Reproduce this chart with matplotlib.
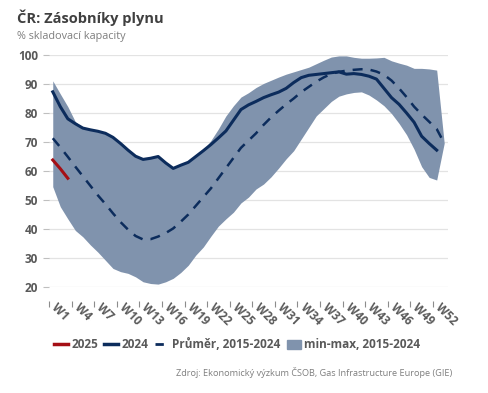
import numpy as np
import matplotlib
matplotlib.use("Agg")
from matplotlib import pyplot as plt
import matplotlib.lines as mlines
import matplotlib.patches as mpatches

plt.rcParams['font.family'] = ['Open Sans', 'DejaVu Sans']

# weekly gas storage, % of capacity
weeks = list(range(1, 54))
tick_weeks = list(range(1, 53, 3))
tick_labels = ["W" + str(w) for w in tick_weeks]

y2025 = [63.8, 60.8, 57.5]

y2024 = [87.3, 82.2, 78.0, 76.3, 74.8, 74.2, 73.7, 73.0, 71.6, 69.5,
         67.2, 65.1, 64.0, 64.4, 65.0, 62.8, 60.9, 62.0, 63.0, 65.0,
         67.0, 69.1, 71.4, 73.8, 77.5, 81.2, 82.8, 84.0, 85.3, 86.3,
         87.2, 88.5, 90.5, 92.2, 93.0, 93.3, 93.6, 93.9, 94.2, 93.4,
         93.6, 93.3, 92.7, 91.7, 88.5, 85.3, 83.0, 80.0, 76.8, 72.0,
         69.5, 67.2]

avg = [71.3, 68.2, 64.9, 61.5, 58.2, 54.9, 51.6, 48.6, 45.4, 42.4,
       39.8, 37.6, 36.4, 36.5, 37.4, 38.6, 40.2, 42.5, 45.0, 48.0,
       51.0, 54.0, 57.5, 61.0, 64.5, 68.0, 70.5, 73.0, 75.9, 78.5,
       80.8, 83.0, 85.0, 87.2, 89.0, 90.8, 92.3, 93.5, 94.2, 94.6,
       94.9, 95.1, 95.0, 94.3, 93.2, 91.2, 88.5, 85.5, 82.2, 79.5,
       77.0, 74.5, 69.6]

vmax = [91.1, 86.6, 82.2, 77.0, 75.0, 74.4, 73.9, 73.2, 71.8, 69.7,
        67.4, 65.3, 64.2, 64.6, 65.2, 63.0, 61.1, 62.2, 63.2, 65.2,
        67.2, 70.5, 74.5, 79.0, 82.5, 85.5, 87.0, 88.8, 90.2, 91.3,
        92.4, 93.4, 94.2, 95.0, 95.8, 97.0, 98.2, 99.3, 99.7, 99.7,
        99.2, 98.9, 98.9, 99.0, 99.2, 98.0, 97.2, 96.5, 95.4, 95.4,
        95.2, 94.8, 69.6]

vmin = [54.6, 47.7, 43.5, 39.5, 37.3, 34.5, 32.0, 29.2, 26.4, 25.3,
        24.7, 23.5, 21.8, 21.2, 21.0, 21.8, 23.0, 25.0, 27.5, 31.0,
        33.8, 37.5, 41.0, 43.5, 45.8, 49.0, 51.0, 53.8, 55.5, 58.0,
        61.0, 64.2, 67.0, 71.0, 75.0, 79.0, 81.5, 84.0, 85.8, 86.6,
        87.1, 87.3, 86.2, 84.5, 82.5, 79.8, 76.4, 72.5, 67.5, 61.5,
        57.8, 56.9, 69.6]

navy = '#0c2c5c'
red = '#a50f15'
band = '#8093ad'
grey = '#595959'

fig = plt.figure(figsize=(4.88, 3.93), dpi=100)
ax = fig.add_axes([0.1004, 0.2697, 0.8176, 0.5903])

ax.fill_between(weeks, vmin, vmax, color=band, lw=0, zorder=1)
ax.plot(weeks, avg, color=navy, lw=1.8, dashes=(4, 3.2), zorder=3)
ax.plot(weeks[:len(y2024)], y2024, color=navy, lw=2.2, zorder=4)
ax.plot(weeks[:len(y2025)], y2025, color=red, lw=2.2, zorder=5)

ax.set_xlim(0.5, 53.5)
ax.set_ylim(20, 100)
ax.set_yticks(range(20, 101, 10))
ax.grid(axis='y', color='#e3e3e3', lw=0.9, zorder=0)
ax.set_axisbelow(True)
for s in ax.spines.values():
    s.set_visible(False)
ax.spines['bottom'].set_position(('outward', 10))

ax.tick_params(axis='y', length=4, color='#bfbfbf', pad=4, labelsize=8.5,
               labelcolor=grey)
for lab in ax.get_yticklabels():
    lab.set_fontweight('bold')

ax.set_xticks([w - 0.5 for w in tick_weeks])
ax.set_xticklabels(tick_labels, rotation=-45, ha='left', va='bottom',
                   rotation_mode='anchor', fontweight='bold', fontsize=8.5,
                   color=grey)
ax.tick_params(axis='x', length=4, color='#8c8c8c', pad=3)

fig.text(17 / 488, 1 - 18 / 393, "ČR: Zásobníky plynu", fontsize=10.5,
         fontweight='bold', color='#404040', va='center')
fig.text(17 / 488, 1 - 37 / 393, "% skladovací kapacity", fontsize=7.8,
         color='#7f7f7f', va='center')

handles = [
    mlines.Line2D([], [], color=red, lw=2.5),
    mlines.Line2D([], [], color=navy, lw=2.5),
    mlines.Line2D([], [], color=navy, lw=2, dashes=(3, 3)),
    mpatches.Patch(color=band),
]
labels = ["2025", "2024", "Průměr, 2015-2024", "min-max, 2015-2024"]
leg = fig.legend(handles, labels, loc='center', ncol=4, frameon=False,
                 bbox_to_anchor=(237 / 488, 1 - 345 / 393),
                 handlelength=1.2, handletextpad=0.3, columnspacing=0.5,
                 prop={'weight': 'bold', 'size': 8.5})
for t in leg.get_texts():
    t.set_color(grey)

fig.text(452 / 488, 1 - 372 / 393,
         "Zdroj: Ekonomický výzkum ČSOB, Gas Infrastructure Europe (GIE)",
         fontsize=6.6, color='#7f7f7f', ha='right', va='center')

fig.savefig("out.png", dpi=100)
